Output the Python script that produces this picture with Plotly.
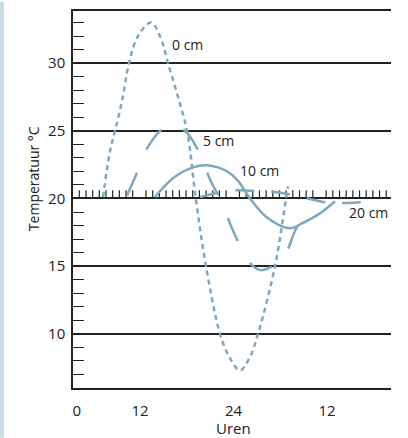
import numpy as np
import plotly.graph_objects as go

# ---- data (hours, temperature °C) ----
h_0cm = [7.25, 8.15, 8.79, 9.69, 10.59, 11.74, 13.41, 14.56, 15.59, 16.87, 18.03,
         19.15, 20.46, 22.26, 23.54, 24.83, 26.11, 27.14, 29.32, 30.73, 30.99]
t_0cm = [20.1, 23.5, 25.0, 27.2, 30.0, 32.0, 33.0, 32.0, 30.0, 27.5, 25.0,
         20.0, 15.0, 10.0, 8.2, 7.3, 8.3, 10.0, 15.0, 20.0, 20.9]

h_5cm = [10.33, 11.61, 12.89, 14.95, 16.10, 17.77, 19.69, 20.98, 22.52, 23.80,
         25.21, 26.49, 27.60, 30.34, 31.88, 33.42]
t_5cm = [20.2, 21.9, 23.7, 25.2, 25.5, 25.0, 23.3, 21.4, 19.7, 17.8,
         16.1, 15.0, 14.7, 15.6, 17.6, 19.2]

h_10cm = [13.92, 16.23, 18.80, 20.59, 23.16, 24.57, 26.11, 28.29, 31.24, 32.91, 35.09, 37.02]
t_10cm = [20.1, 21.5, 22.3, 22.45, 22.0, 21.3, 20.0, 18.6, 17.8, 18.2, 18.9, 19.8]

h_20cm = [19.69, 21.88, 24.44, 27.01, 29.06, 31.63, 33.81, 36.37, 38.56, 40.86]
t_20cm = [20.1, 20.4, 20.6, 20.55, 20.5, 20.26, 19.96, 19.67, 19.67, 19.74]

x_tickvals = [3.9, 12, 24, 36]
x_ticktext = ["0", "12", "24", "12"]
y_tickvals = [10, 15, 20, 25, 30]

labels = ["0 cm", "5 cm", "10 cm", "20 cm"]
label_h = [18.15, 22.13, 27.39, 41.3]
label_t = [31.4, 24.25, 22.1, 19.0]

# ---- style ----
BLUE = "#7fa8be"
INK = "#222222"
FONT = "Open Sans"
X_RANGE = [3.4, 44.2]
Y_RANGE = [6, 33.85]

fig = go.Figure()

# small tick marks along the 20 °C line
tick_start, tick_step, n_ticks, skip = 4.21, 0.856, 47, {9, 23, 36}
tick_h = [tick_start + k * tick_step for k in range(n_ticks) if k not in skip]
fig.add_trace(go.Scatter(
    x=tick_h, y=[20.29] * len(tick_h), mode="markers",
    marker=dict(symbol="line-ns", size=6, line=dict(color=INK, width=1.2)),
    hoverinfo="skip", showlegend=False))

series = [
    (h_0cm, t_0cm, "5px,4px"),
    (h_5cm, t_5cm, "25px,25px"),
    (h_10cm, t_10cm, "solid"),
    (h_20cm, t_20cm, "19px,17px"),
]
for hx, ty, dash in series:
    fig.add_trace(go.Scatter(
        x=hx, y=ty, mode="lines",
        line=dict(color=BLUE, width=2.5, dash=dash, shape="spline", smoothing=1.0),
        showlegend=False))

annotations = [
    dict(x=hx, y=ty, text=tx, showarrow=False, xref="x", yref="y",
         xanchor="center", yanchor="middle",
         font=dict(family=FONT, size=14, color=INK))
    for tx, hx, ty in zip(labels, label_h, label_t)
]
annotations.append(dict(x=(233 - 73) / 318, y=-(428 - 388) / 379, xref="paper", yref="paper",
                        text="Uren", showarrow=False, xanchor="center", yanchor="middle",
                        font=dict(family=FONT, size=15, color=INK)))
annotations.append(dict(x=-(73 - 33) / 318, y=(388 - 178) / 379, xref="paper", yref="paper",
                        text="Temperatuur °C", textangle=-90, showarrow=False,
                        xanchor="center", yanchor="middle",
                        font=dict(family=FONT, size=14, color=INK)))

fig.update_layout(
    width=408, height=438,
    margin=dict(l=73, r=17, t=9, b=50),
    paper_bgcolor="white", plot_bgcolor="white",
    annotations=annotations,
    shapes=[dict(type="rect", xref="paper", yref="paper",
                 x0=-73 / 318, x1=-69 / 318, y0=-50 / 379, y1=1 + 9 / 379,
                 fillcolor="#c9dce7", line=dict(width=0), layer="above")],
    font=dict(family=FONT, color=INK),
)
fig.update_xaxes(
    range=X_RANGE, tickvals=x_tickvals, ticktext=x_ticktext,
    showgrid=False, zeroline=False, showline=True, mirror=True,
    linecolor=INK, linewidth=1.5, ticks="", ticklabelstandoff=8,
    tickfont=dict(family=FONT, size=15, color=INK))
fig.update_yaxes(
    range=Y_RANGE, tickvals=y_tickvals,
    showgrid=True, gridcolor=INK, gridwidth=1.5, zeroline=False,
    showline=True, linecolor=INK, linewidth=1.5, ticks="", ticklabelstandoff=3,
    minor=dict(dtick=1, tick0=0, ticks="inside", ticklen=11, tickwidth=1.2,
               tickcolor=INK, showgrid=False),
    tickfont=dict(family=FONT, size=15, color=INK))

fig.write_html("out.html", config={"displayModeBar": False},
               post_script="document.body.style.margin='0';")
